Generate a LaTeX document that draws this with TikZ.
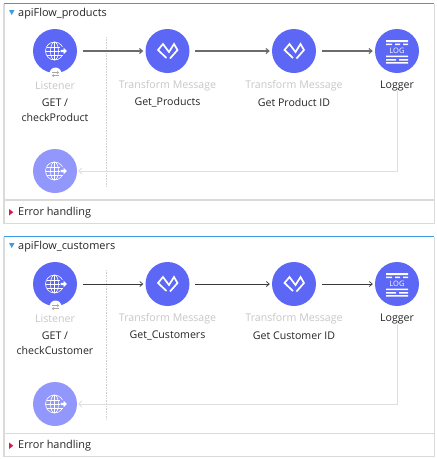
\documentclass[tikz,border=0pt]{standalone}
\usepackage{fontspec}
\setmainfont{Open Sans}
\usetikzlibrary{arrows.meta,calc}
\definecolor{blu}{HTML}{5C68F5}
\definecolor{lblu}{HTML}{9298FB}
\definecolor{topb}{HTML}{3D9BE0}
\definecolor{pan}{HTML}{DADADA}
\definecolor{errc}{HTML}{D81B4A}
\tikzset{
  x=1pt,y=-1pt,
  proc/.style={circle,fill=blu,draw=none,minimum size=44,inner sep=0},
  ghost/.style={circle,fill=lblu,draw=none,minimum size=44,inner sep=0},
  gtxt/.style={font=\fontsize{10.6}{14}\selectfont,text=black!22,inner sep=0,anchor=center},
  ntxt/.style={font=\fontsize{10.6}{15.5}\selectfont,text=black!85,inner sep=0,align=center,anchor=center},
  title/.style={font=\fontsize{10.9}{14}\selectfont,text=black!85,inner sep=0,anchor=west},
  flowarr/.style={-{Straight Barb[length=3pt,width=5pt]}},
  retarr/.style={draw=black!13,line width=.8pt,-{Straight Barb[length=3pt,width=6pt]}},
  ico/.style={draw=white,line width=.6pt},
}
\newcommand{\globeicon}[3]{%
  \begin{scope}[shift={(#1,#2)}]
    \draw[ico] (-0.5,0) circle[radius=9];
    \draw[ico] (-0.5,0) ellipse[x radius=4,y radius=9];
    \draw[ico] (-8.5,-4) -- (7.5,-4) (-9.5,0) -- (8.5,0) (-8.5,4) -- (7.5,4) (-0.5,-9) -- (-0.5,9);
    \fill[#3] (5,-4.2) rectangle (12.5,4.2);
    \fill[white] (5.5,-1.1) -- (8.5,-1.1) -- (8.5,-3.4) -- (12,0) -- (8.5,3.4) -- (8.5,1.1) -- (5.5,1.1) -- cycle;
  \end{scope}}
\newcommand{\dwicon}[2]{%
  \begin{scope}[shift={(#1,#2)}]
    \draw[white,line width=1.7pt,line join=miter] (-1,7) -- (-9.5,-1) -- (-4.5,-7) -- (1.5,1) -- (6.5,-7) -- (10,-1) -- (2.5,7.5);
  \end{scope}}
\newcommand{\logicon}[2]{%
  \begin{scope}[shift={(#1,#2)}]
    \fill[white] (-11,-11) rectangle (11,-9) (-11,-7.5) rectangle (-5,-6) (-2,-7.5) rectangle (3,-6) (6,-7.5) rectangle (11,-6);
    \node[font=\fontsize{7.5}{8}\selectfont,text=white,inner sep=0] at (0,0) {LOG};
    \fill[white] (-11,4.5) rectangle (11,6) (-11,8) rectangle (-1,9.5) (2,8) rectangle (11,9.5) (-11,11) rectangle (11,12.5);
  \end{scope}}
\begin{document}
\begin{tikzpicture}
\useasboundingbox (0,0) rectangle (437,459);
\fill[white] (0,0) rectangle (437,459);
\foreach \pfx/\top/\dv/\bt/\fname/\lsub/\ta/\tb/\acol/\awd in {
  p/3.5/196.5/219.5/apiFlow\_products/checkProduct/Get\_Products/Get Product ID/black!58/1.1pt,
  c/236.5/197/220/apiFlow\_customers/checkCustomer/Get\_Customers/Get Customer ID/black!78/.7pt}{
\begin{scope}[shift={(0,\top)}]
    \draw[pan,line width=1pt] (4,0) -- (4,\bt) -- (434,\bt) -- (434,0);
    \draw[topb,line width=1pt] (4,0) -- (434,0);
    \draw[pan,line width=1.3pt] (4,\dv) -- (434,\dv);
    \fill[topb] (9,6.5) -- (14.5,6.5) -- (11.75,11.5) -- cycle;
    \node[title] (\pfx name) at (18,10) {\fname};
    \fill[errc] (9,\dv+9) -- (13.3,\dv+12.2) -- (9,\dv+15.5) -- cycle;
    \node[title] (\pfx err) at (18,\dv+12.2) {Error handling};
    \draw[black!18,line width=.6pt,densely dotted] (106.5,33.5) -- (106.5,182.5);
    \node[proc] (\pfx a) at (55,47.5) {};
    \node[proc] (\pfx b) at (167.5,47.5) {};
    \node[proc] (\pfx c) at (294,47.5) {};
    \node[proc] (\pfx d) at (397,47.5) {};
    \node[ghost] (\pfx e) at (55,167.5) {};
    \fill[white] (55.5,70) circle[radius=6];
    \draw[black!35,line width=.5pt,-{Straight Barb[length=1.5pt,width=3pt]}] (52,69) -- (59,69);
    \draw[black!35,line width=.5pt,-{Straight Barb[length=1.5pt,width=3pt]}] (59,72) -- (52,72);
    \globeicon{55}{47.5}{blu}
    \globeicon{55}{167.5}{lblu}
    \dwicon{167.5}{47.5}
    \dwicon{294}{47.5}
    \logicon{397}{47.5}
    \node[gtxt] (\pfx la) at (55,82) {Listener};
    \node[ntxt] (\pfx lb) at (55,106.5) {GET /\\\lsub};
    \node[gtxt] (\pfx ta) at (167.5,82) {Transform Message};
    \node[ntxt] (\pfx tb) at (167.5,98.8) {\ta};
    \node[gtxt] (\pfx tc) at (294,82) {Transform Message};
    \node[ntxt] (\pfx td) at (294,98.8) {\tb};
    \node[ntxt] (\pfx lg) at (397,82) {Logger};
    \coordinate (\pfx corner) at (397,167.5);
    \draw[flowarr,draw=\acol,line width=\awd] ($(\pfx a.east)+(5.5,0)$) -- ($(\pfx b.west)+(-2,0)$);
    \draw[flowarr,draw=\acol,line width=\awd] ($(\pfx b.east)+(5.5,0)$) -- ($(\pfx c.west)+(-2,0)$);
    \draw[flowarr,draw=\acol,line width=\awd] ($(\pfx c.east)+(5.5,0)$) -- ($(\pfx d.west)+(-2,0)$);
    \draw[retarr] (\pfx lg.south) -- (\pfx corner) -- ($(\pfx e.east)+(1,0)$);
\end{scope}}
\end{tikzpicture}
\end{document}
